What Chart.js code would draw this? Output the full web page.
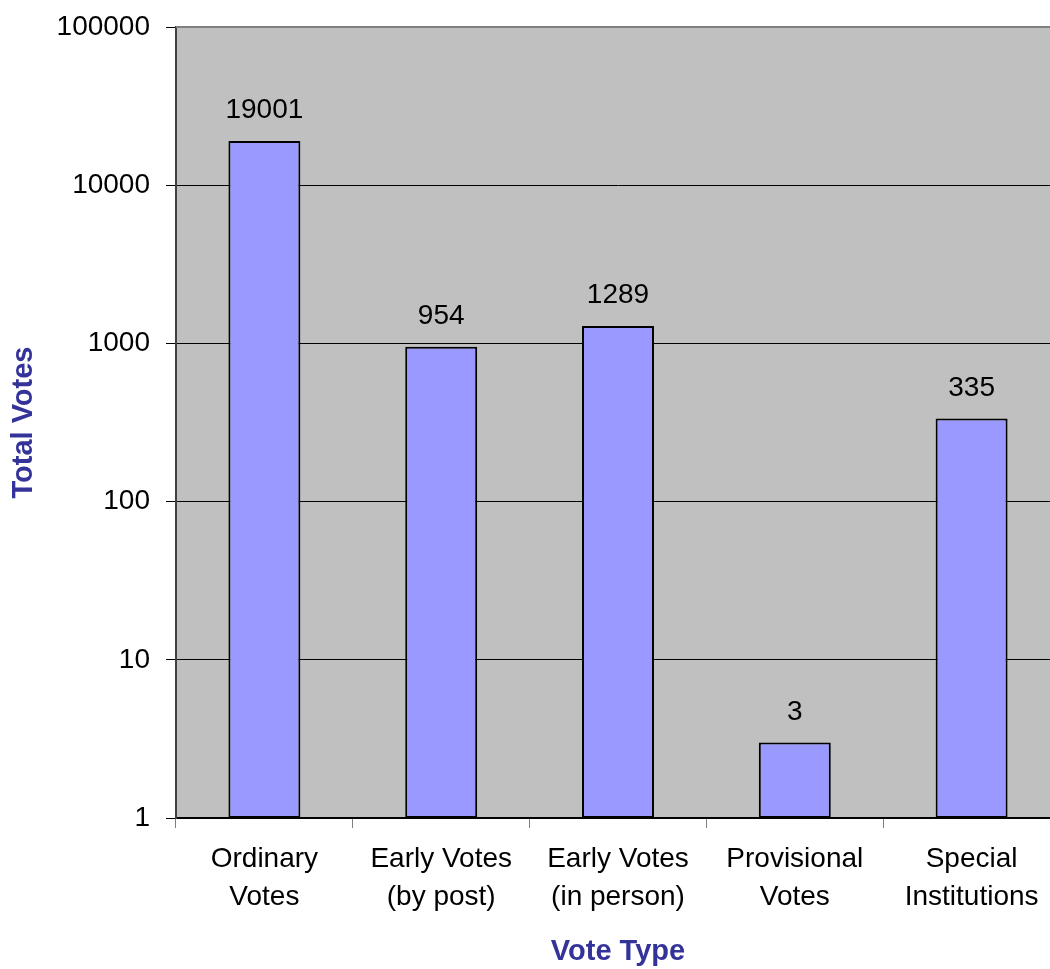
<!DOCTYPE html>
<html>
<head>
<meta charset="utf-8">
<script src="https://cdn.jsdelivr.net/npm/chart.js@4.4.1/dist/chart.umd.min.js"></script>
<style>
html,body{margin:0;padding:0;background:#fff;overflow:hidden;}
#wrap{position:absolute;left:0;top:0;width:1061px;height:969px;}
</style>
</head>
<body>
<div id="wrap"><canvas id="c"></canvas></div>
<script>
const categories = [["Ordinary","Votes"],["Early Votes","(by post)"],["Early Votes","(in person)"],["Provisional","Votes"],["Special","Institutions"]];
const totalVotes = [19001, 954, 1289, 3, 335];
const yTickValues = [1, 10, 100, 1000, 10000, 100000];

const FONT = "'Liberation Sans', Arial, sans-serif";

const plotBg = {
  id: 'plotBg',
  beforeDraw(chart) {
    const {ctx, chartArea: a} = chart;
    ctx.save();
    ctx.fillStyle = '#C0C0C0';
    ctx.fillRect(a.left, a.top, a.right - a.left, a.bottom - a.top);
    ctx.restore();
  },
  afterDatasetsDraw(chart) {
    const {ctx, chartArea: a} = chart;
    ctx.save();
    ctx.strokeStyle = '#808080';
    ctx.lineWidth = 2;
    ctx.beginPath();
    ctx.moveTo(a.left, a.top);
    ctx.lineTo(a.right, a.top);
    ctx.stroke();
    // value labels
    const meta = chart.getDatasetMeta(0);
    ctx.fillStyle = '#000';
    ctx.font = "28px " + FONT;
    ctx.textAlign = 'center';
    ctx.textBaseline = 'alphabetic';
    meta.data.forEach((bar, i) => {
      ctx.fillText(String(chart.data.datasets[0].data[i]), bar.x, bar.y - 23);
    });
    ctx.restore();
  }
};

new Chart(document.getElementById('c'), {
  type: 'bar',
  data: {
    labels: categories,
    datasets: [{
      data: totalVotes,
      backgroundColor: '#9999FF',
      borderColor: '#000000',
      borderWidth: 2,
      borderSkipped: false,
      barPercentage: 0.407,
      categoryPercentage: 1.0
    }]
  },
  options: {
    responsive: true,
    maintainAspectRatio: false,
    animation: false,
    devicePixelRatio: 1,
    layout: { padding: { top: 27, right: 1, left: 0, bottom: 0 } },
    plugins: { legend: { display: false }, tooltip: { enabled: false } },
    scales: {
      x: {
        grid: { offset: true, drawOnChartArea: false, drawTicks: true, tickLength: 10, color: '#808080', lineWidth: 1 },
        border: { display: true, color: '#000', width: 2 },
        ticks: { color: '#000', font: { family: FONT, size: 28, lineHeight: 1.36 }, padding: 12, maxRotation: 0, autoSkip: false },
        title: { display: true, text: 'Vote Type', color: '#333399', font: { family: FONT, size: 29, weight: 'bold' }, padding: { top: 0, bottom: 0 } },
        afterFit(scale) { scale.height = 151; scale.paddingLeft = 0; scale.paddingRight = 0; }
      },
      y: {
        type: 'logarithmic',
        min: 1,
        max: 100000,
        afterBuildTicks(scale) { scale.ticks = yTickValues.map(v => ({ value: v, major: true })); },
        grid: { color: '#000', lineWidth: 1, tickLength: 10, drawTicks: true },
        border: { display: true, color: '#404040', width: 2 },
        ticks: { color: '#000', font: { family: FONT, size: 28 }, padding: 16, callback: v => String(v) },
        title: { display: true, text: 'Total Votes', color: '#333399', font: { family: FONT, size: 29, weight: 'bold' }, padding: { top: 7, bottom: 0 } },
        afterFit(scale) { scale.width = 176; scale.paddingTop = 0; scale.paddingBottom = 0; }
      }
    }
  },
  plugins: [plotBg]
});
</script>
</body>
</html>
